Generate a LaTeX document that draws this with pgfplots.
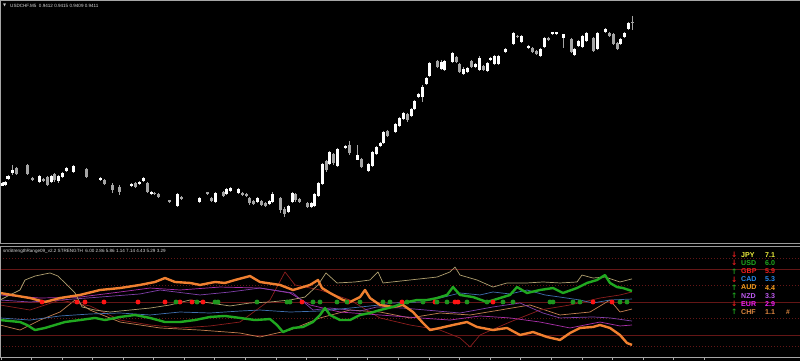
\documentclass[border=0pt]{standalone}
\usepackage{pgfplots}
\pgfplotsset{compat=1.18}
\usepackage{pgfplotstable}
\usepackage{fontspec}
\setmainfont{Liberation Sans}
\newfontfamily\dejavu{DejaVu Sans}
\definecolor{lvlred}{RGB}{100,22,22}
\definecolor{cJPY}{RGB}{176,160,112}
\definecolor{cUSD}{RGB}{32,168,32}
\definecolor{cGBP}{RGB}{140,30,30}
\definecolor{cCAD}{RGB}{64,112,176}
\definecolor{cAUD}{RGB}{196,128,80}
\definecolor{cNZD}{RGB}{128,64,170}
\definecolor{cEUR}{RGB}{170,48,170}
\definecolor{cCHF}{RGB}{240,128,48}
\definecolor{tJPY}{RGB}{240,240,60}
\definecolor{tUSD}{RGB}{30,170,30}
\definecolor{tGBP}{RGB}{240,30,30}
\definecolor{tCAD}{RGB}{40,140,240}
\definecolor{tAUD}{RGB}{250,160,30}
\definecolor{tNZD}{RGB}{190,90,240}
\definecolor{tEUR}{RGB}{240,30,240}
\definecolor{tCHF}{RGB}{224,136,64}
\definecolor{arrG}{RGB}{30,160,30}
\definecolor{arrR}{RGB}{230,30,30}
\definecolor{dotR}{RGB}{255,20,20}
\definecolor{dotG}{RGB}{30,150,30}
\definecolor{candleDn}{RGB}{165,165,165}

\pgfplotstableread{
x h l o c
2 0.93300 0.93280 0.93280 0.93295
5 0.93305 0.93280 0.93285 0.93300
8 0.93335 0.93310 0.93315 0.93330
12 0.93385 0.93335 0.93345 0.93360
16 0.93375 0.93335 0.93370 0.93340
27 0.93390 0.93335 0.93385 0.93340
32 0.93325 0.93305 0.93320 0.93310
39 0.93335 0.93295 0.93300 0.93330
43 0.93320 0.93300 0.93315 0.93305
47 0.93330 0.93280 0.93325 0.93285
51 0.93335 0.93295 0.93300 0.93330
54 0.93345 0.93300 0.93340 0.93310
58 0.93335 0.93295 0.93305 0.93330
62 0.93350 0.93320 0.93325 0.93345
66 0.93375 0.93350 0.93355 0.93370
73 0.93385 0.93345 0.93350 0.93380
86 0.93370 0.93320 0.93365 0.93325
100 0.93325 0.93305 0.93310 0.93320
104 0.93315 0.93285 0.93310 0.93290
112 0.93295 0.93245 0.93285 0.93260
119 0.93285 0.93235 0.93275 0.93250
131 0.93295 0.93275 0.93280 0.93290
135 0.93300 0.93270 0.93295 0.93275
139 0.93305 0.93285 0.93290 0.93300
143 0.93325 0.93300 0.93305 0.93320
147 0.93300 0.93245 0.93295 0.93250
151 0.93255 0.93235 0.93240 0.93250
154 0.93250 0.93235 0.93245 0.93240
158 0.93245 0.93220 0.93240 0.93225
169 0.93210 0.93195 0.93210 0.93200
177 0.93245 0.93175 0.93180 0.93240
181 0.93230 0.93210 0.93225 0.93215
199 0.93225 0.93195 0.93200 0.93220
207 0.93250 0.93235 0.93250 0.93240
211 0.93225 0.93200 0.93220 0.93205
215 0.93250 0.93195 0.93200 0.93245
223 0.93255 0.93225 0.93250 0.93230
226 0.93270 0.93235 0.93240 0.93265
230 0.93275 0.93250 0.93255 0.93270
238 0.93270 0.93240 0.93245 0.93265
242 0.93250 0.93230 0.93245 0.93235
246 0.93245 0.93225 0.93240 0.93230
249 0.93225 0.93185 0.93220 0.93195
253 0.93210 0.93185 0.93205 0.93190
257 0.93225 0.93195 0.93200 0.93220
261 0.93210 0.93180 0.93205 0.93185
265 0.93200 0.93175 0.93195 0.93180
269 0.93210 0.93185 0.93190 0.93205
272 0.93250 0.93195 0.93200 0.93240
280 0.93225 0.93145 0.93220 0.93160
284 0.93175 0.93125 0.93165 0.93140
288 0.93185 0.93145 0.93150 0.93180
292 0.93250 0.93195 0.93200 0.93245
295 0.93245 0.93200 0.93240 0.93210
299 0.93220 0.93195 0.93215 0.93200
307 0.93200 0.93170 0.93195 0.93175
311 0.93200 0.93170 0.93175 0.93195
314 0.93245 0.93175 0.93180 0.93240
318 0.93300 0.93225 0.93230 0.93295
322 0.93395 0.93285 0.93290 0.93390
326 0.93410 0.93350 0.93405 0.93360
329 0.93455 0.93385 0.93390 0.93450
333 0.93445 0.93385 0.93440 0.93395
337 0.93470 0.93375 0.93380 0.93465
345 0.93485 0.93465 0.93470 0.93480
349 0.93505 0.93435 0.93485 0.93445
357 0.93485 0.93410 0.93410 0.93435
361 0.93420 0.93370 0.93415 0.93375
368 0.93395 0.93350 0.93355 0.93390
372 0.93455 0.93375 0.93380 0.93450
376 0.93480 0.93435 0.93440 0.93475
380 0.93500 0.93475 0.93480 0.93495
383 0.93555 0.93490 0.93495 0.93550
387 0.93560 0.93525 0.93555 0.93530
395 0.93595 0.93545 0.93550 0.93590
399 0.93625 0.93575 0.93580 0.93620
403 0.93650 0.93610 0.93615 0.93645
407 0.93645 0.93600 0.93640 0.93610
411 0.93670 0.93625 0.93630 0.93665
414 0.93710 0.93660 0.93665 0.93705
418 0.93745 0.93720 0.93725 0.93740
422 0.93785 0.93700 0.93725 0.93775
426 0.93825 0.93785 0.93790 0.93820
429 0.93900 0.93825 0.93830 0.93895
437 0.93910 0.93870 0.93905 0.93875
441 0.93910 0.93860 0.93865 0.93900
444 0.93910 0.93855 0.93860 0.93905
452 0.93950 0.93895 0.93900 0.93945
456 0.93930 0.93895 0.93925 0.93900
459 0.93895 0.93845 0.93890 0.93850
463 0.93875 0.93835 0.93840 0.93865
467 0.93875 0.93845 0.93850 0.93870
471 0.93910 0.93870 0.93905 0.93875
475 0.93895 0.93870 0.93875 0.93890
479 0.93930 0.93855 0.93860 0.93920
483 0.93885 0.93855 0.93880 0.93860
487 0.93900 0.93850 0.93855 0.93895
490 0.93925 0.93905 0.93910 0.93920
494 0.93935 0.93885 0.93890 0.93930
498 0.93935 0.93885 0.93890 0.93930
505 0.93970 0.93945 0.93950 0.93965
513 0.94050 0.93985 0.93990 0.94045
517 0.94035 0.94020 0.94030 0.94025
521 0.94035 0.93995 0.94000 0.94030
528 0.93985 0.93965 0.93970 0.93980
532 0.93975 0.93945 0.93970 0.93950
536 0.93960 0.93935 0.93955 0.93940
540 0.93970 0.93925 0.93930 0.93965
544 0.94025 0.93970 0.93975 0.94020
548 0.94025 0.94005 0.94020 0.94010
552 0.94050 0.94035 0.94040 0.94050
556 0.94050 0.94035 0.94040 0.94050
563 0.94040 0.93970 0.94020 0.94040
571 0.94020 0.93945 0.94015 0.93950
574 0.93970 0.93930 0.93935 0.93965
578 0.94010 0.93975 0.93980 0.94005
582 0.94035 0.93970 0.93975 0.94030
586 0.94050 0.94000 0.94005 0.94045
593 0.94025 0.93950 0.94020 0.93955
597 0.94050 0.93960 0.93965 0.94045
605 0.94070 0.94045 0.94050 0.94065
609 0.94050 0.94025 0.94045 0.94030
613 0.94045 0.93985 0.94040 0.93990
617 0.94000 0.93960 0.93995 0.93965
620 0.94020 0.93985 0.93990 0.94015
624 0.94050 0.94020 0.94025 0.94045
628 0.94100 0.94060 0.94065 0.94095
632 0.94130 0.94060 0.94100 0.94095
}\candles

\begin{document}
\begin{tikzpicture}
\fill[black] (0bp,0bp) rectangle (800bp,361bp);
\useasboundingbox (0bp,0bp) rectangle (800bp,361bp);

% ---------------- price panel ----------------
\begin{axis}[at={(0bp,118bp)}, anchor=south west, scale only axis,
  width=800bp, height=240bp, xmin=0, xmax=800,
  ymin=0.92995, ymax=0.94195, hide axis]
% wicks
\addplot[quiver={u=0, v=\thisrow{l}-\thisrow{h}}, -, candleDn, line width=1bp, line cap=butt]
  table[x=x, y=h] {\candles};
% all bodies (grey)
\addplot[quiver={u=0, v=\thisrow{c}-\thisrow{o}}, -, candleDn, line width=3bp, line cap=butt]
  table[x=x, y=o] {\candles};
% bullish bodies (white)
\addplot[quiver={u=0, v={max(\thisrow{c}-\thisrow{o},0)}}, -, white, line width=3bp, line cap=butt]
  table[x=x, y=o] {\candles};
\end{axis}

% ---------------- strength panel ----------------
\begin{axis}[at={(0bp,4bp)}, anchor=south west, scale only axis,
  width=800bp, height=110bp, xmin=0, xmax=800, ymin=0, ymax=10,
  axis line style={draw=none}, xtick=\empty,
  ytick={2,5,8}, minor ytick={1,3.5,6.5,9}, yticklabels={},
  major tick length=0, minor tick length=0,
  ymajorgrids, yminorgrids,
  major grid style={color=lvlred, line width=0.7bp},
  minor grid style={color=lvlred, line width=0.6bp, dash pattern=on 1bp off 2bp}]
% AUD
\addplot[cAUD, line width=0.7bp, line join=round] coordinates {
(0,2.91)(20,2.45)(40,3.36)(60,4.09)(75,5.18)(90,4.27)(120,3.18)(160,2.64)(200,2.45)(240,2.18)(260,1.82)(290,2.45)(320,3.55)(350,4.27)(380,4.09)(410,3.55)(440,4.0)(470,3.82)(500,4.27)(530,4.73)(560,3.82)(590,4.09)(610,5.18)(620,4.09)(632,4.36)};
% GBP
\addplot[cGBP, line width=0.7bp, line join=round] coordinates {
(0,4.73)(30,4.27)(60,5.18)(90,4.64)(120,3.36)(150,2.91)(180,2.64)(210,2.82)(240,3.18)(270,5.18)(285,7.73)(295,6.55)(320,6.09)(350,5.18)(380,3.55)(410,2.91)(440,2.45)(460,1.73)(470,0.91)(480,2.0)(510,3.18)(540,4.27)(570,4.73)(600,5.36)(620,5.64)(632,5.91)};
% EUR
\addplot[cEUR, line width=0.7bp, line join=round] coordinates {
(0,5.64)(40,5.36)(80,5.45)(120,5.91)(150,6.27)(180,6.09)(220,6.36)(260,6.27)(290,5.82)(310,4.73)(340,4.09)(380,3.82)(420,3.55)(450,3.36)(480,3.73)(510,3.55)(540,3.18)(570,2.64)(600,3.18)(620,2.82)(632,2.91)};
% NZD
\addplot[cNZD, line width=0.7bp, line join=round] coordinates {
(0,5.18)(30,5.0)(60,5.18)(100,5.45)(140,5.73)(160,6.09)(200,5.64)(230,5.91)(260,6.27)(293,5.82)(313,4.27)(330,4.45)(360,4.18)(377,4.55)(403,4.45)(460,4.0)(493,4.55)(520,4.91)(543,4.0)(560,3.55)(593,3.64)(610,3.55)(632,3.27)};
% CAD
\addplot[cCAD, line width=0.7bp, line join=round] coordinates {
(0,3.55)(30,3.36)(60,3.73)(90,3.91)(120,4.0)(150,3.82)(180,4.09)(210,4.0)(240,4.18)(260,4.27)(290,4.09)(320,4.18)(350,4.45)(380,4.73)(393,4.91)(420,5.0)(440,5.36)(460,5.82)(480,5.64)(493,5.91)(510,5.73)(527,6.09)(545,5.64)(560,5.45)(580,5.18)(593,4.91)(610,5.18)(632,5.27)};
% JPY
\addplot[cJPY, line width=0.7bp, line join=round] coordinates {
(0,5.18)(10,5.64)(20,6.09)(25,7.0)(35,7.36)(50,7.64)(58,7.36)(65,6.73)(75,5.82)(82,4.55)(95,4.27)(110,4.09)(130,4.27)(150,4.45)(170,4.73)(190,5.18)(210,4.91)(230,4.64)(250,4.91)(270,5.0)(290,5.18)(305,5.45)(318,6.55)(326,7.64)(337,6.73)(355,6.82)(370,7.0)(378,7.73)(383,6.73)(410,7.0)(437,7.27)(450,7.73)(455,8.18)(460,7.45)(477,7.0)(493,6.36)(507,6.73)(527,6.73)(543,6.82)(560,6.73)(577,6.82)(582,7.45)(593,7.18)(605,7.27)(620,6.82)(632,7.1)};
% CHF (thick)
\addplot[cCHF, line width=2.4bp, line join=round] coordinates {
(0,5.82)(30,5.36)(45,5.0)(60,5.36)(80,5.64)(100,6.09)(120,6.27)(140,6.55)(155,6.82)(165,7.18)(175,6.82)(190,6.73)(200,6.55)(215,6.82)(225,6.73)(235,7.0)(250,7.36)(260,6.82)(280,6.55)(293,6.09)(310,6.55)(318,7.0)(322,6.27)(330,5.82)(343,5.18)(350,5.0)(360,5.45)(365,6.09)(370,5.36)(380,4.73)(393,4.55)(403,4.73)(413,4.09)(423,3.09)(430,2.45)(440,2.64)(453,2.91)(467,3.18)(477,2.73)(493,2.45)(507,2.64)(520,2.0)(533,2.27)(547,1.82)(560,1.55)(570,2.18)(580,2.64)(593,2.73)(600,2.91)(610,2.64)(620,2.0)(627,1.27)(632,1.1)};
% USD (thick)
\addplot[cUSD, line width=2.4bp, line join=round] coordinates {
(0,3.36)(20,3.18)(27,2.91)(35,2.45)(45,2.64)(55,2.91)(65,3.18)(80,3.36)(95,3.55)(105,3.36)(120,3.64)(135,3.82)(150,3.55)(165,3.18)(180,3.18)(195,3.36)(210,3.64)(225,3.73)(240,3.55)(255,3.36)(270,3.45)(277,2.91)(283,2.27)(293,2.64)(303,2.73)(313,3.18)(320,3.82)(325,4.45)(330,3.82)(340,3.36)(350,3.36)(360,3.82)(370,4.0)(380,4.27)(393,4.55)(403,4.91)(417,5.18)(427,5.18)(437,5.36)(447,5.64)(453,6.36)(460,5.64)(473,5.45)(487,5.0)(500,5.36)(510,5.64)(517,6.36)(527,5.82)(540,6.09)(553,6.27)(563,5.82)(577,6.27)(587,6.73)(597,7.0)(605,7.45)(610,6.73)(617,6.36)(623,6.27)(632,6.0)};
% signal dots
\addplot[only marks, mark=*, mark size=2.2bp, color=dotR] coordinates {
(42,5)(77,5)(85,5)(104,5)(138,5)(165,5)(180,5)(192,5)(203,5)(302,5)(348,5)(402,5)(435,5)(455,5)(458,5)(493,5)(593,5)(612,5)};
\addplot[only marks, mark=*, mark size=2.2bp, color=dotG] coordinates {
(176,5)(197,5)(215,5)(218,5)(257,5)(287,5)(290,5)(313,5)(320,5)(337,5)(347,5)(360,5)(383,5)(390,5)(407,5)(423,5)(437,5)(447,5)(467,5)(487,5)(503,5)(513,5)(550,5)(553,5)(573,5)(580,5)(620,5)(627,5)};
\end{axis}

% ---------------- frames ----------------
\begin{scope}[x=1bp,y=1bp]
\draw[gray!70, line width=1bp] (0,360.5) -- (800,360.5);
\draw[gray!70, line width=1bp] (0.5,118) -- (0.5,361);
\draw[gray!80, line width=1bp] (0,117) -- (800,117);
\draw[gray!80, line width=1bp] (0,114.6) -- (800,114.6);
\draw[gray!70, line width=0.8bp] (0.5,4) -- (0.5,114);
\draw[gray!70, line width=0.8bp] (0,4) -- (800,4);
\foreach \t in {1,31,62,92,123,153,184,214,245,276,306,337,367,398,429,459,490,520,551,582,612,643,673,704} {
  \draw[gray!70, line width=0.6bp] (\t,4) -- (\t,1);
}

% ---------------- titles ----------------
\node[anchor=west, inner sep=0, text=gray!40, font=\dejavu\fontsize{4}{5}\selectfont] at (3,355.5) {▼};
\node[anchor=west, inner sep=0, text=gray!30, font=\fontsize{4.6}{5}\selectfont] at (10,355.5) {USDCHF.M5\ \ 0.9412 0.9415 0.9409 0.9411};
\node[anchor=west, inner sep=0, text=gray!30, font=\fontsize{4.6}{5}\selectfont] at (3,110) {smStrengthRange09\_v2.2 STRENGTH\ \ 6.00 2.86 5.86 1.14 7.14 4.43 5.29 3.29};

% ---------------- strength table ----------------
\begin{scope}[every node/.style={anchor=west, inner sep=0}]
\def\rowsp{8.15}
\foreach \i/\nm/\val/\col/\arr/\acol in {0/JPY/7.1/tJPY/↓/arrR, 1/USD/6.0/tUSD/↓/arrR, 2/GBP/5.9/tGBP/↑/arrG, 3/CAD/5.3/tCAD/↓/arrR, 4/AUD/4.4/tAUD/↑/arrG, 5/NZD/3.3/tNZD/↑/arrG, 6/EUR/2.9/tEUR/↓/arrR, 7/CHF/1.1/tCHF/↑/arrG} {
  \pgfmathsetmacro{\yy}{106-\i*\rowsp}
  \node[text=\acol, font=\dejavu\bfseries\fontsize{7.5}{8}\selectfont] at (731,\yy) {\arr};
  \node[text=\col, font=\bfseries\fontsize{7.1}{8}\selectfont] at (741,\yy) {\nm};
  \node[text=\col, font=\bfseries\fontsize{7.1}{8}\selectfont] at (765,\yy) {\val};
}
\node[text=tCHF, font=\bfseries\fontsize{6.8}{7}\selectfont] at (786,49) {\#};
\end{scope}
\end{scope}
\end{tikzpicture}
\end{document}
